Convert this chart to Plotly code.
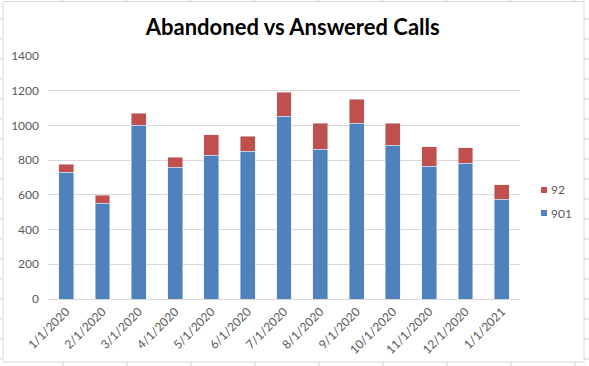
import plotly.graph_objects as go

months = ["1/1/2020", "2/1/2020", "3/1/2020", "4/1/2020", "5/1/2020", "6/1/2020",
          "7/1/2020", "8/1/2020", "9/1/2020", "10/1/2020", "11/1/2020", "12/1/2020", "1/1/2021"]
answered_901 = [731, 553, 1002, 760, 829, 852, 1054, 864, 1014, 887, 766, 783, 576]
abandoned_92 = [46, 46, 69, 58, 116, 87, 138, 150, 138, 127, 110, 87, 81]
y_ticks = [0, 200, 400, 600, 800, 1000, 1200, 1400]

BLUE = "#4F81BD"
RED = "#C0504D"

W, H = 589, 366
ML, MR, MT, MB = 48, 69, 56, 67
PW, PH = W - ML - MR, H - MT - MB


def px(x):
    return (x - ML) / PW


def py(y):
    return (H - MB - y) / PH


fig = go.Figure()
fig.add_trace(go.Bar(x=months, y=answered_901, name="901", marker_color=BLUE, showlegend=False))
fig.add_trace(go.Bar(x=months, y=abandoned_92, name="92", marker_color=RED, showlegend=False))

shapes = []
# spreadsheet cell grid behind the chart
for gx in range(63, W, 64):
    shapes.append(dict(type="line", xref="paper", yref="paper", x0=px(gx), x1=px(gx), y0=py(0), y1=py(H),
                       line=dict(color="#d4d4d4", width=1), layer="below"))
for gy in range(19, H, 20):
    shapes.append(dict(type="line", xref="paper", yref="paper", x0=px(0), x1=px(W), y0=py(gy), y1=py(gy),
                       line=dict(color="#d4d4d4", width=1), layer="below"))
# chart area
shapes.append(dict(type="rect", xref="paper", yref="paper", x0=px(3), x1=px(584), y0=py(362), y1=py(1.5),
                   line=dict(color="#d9d9d9", width=1), fillcolor="white", layer="below"))
# legend keys
shapes.append(dict(type="rect", xref="paper", yref="paper", x0=px(541), x1=px(547), y0=py(193), y1=py(187),
                   line=dict(width=0), fillcolor=RED))
shapes.append(dict(type="rect", xref="paper", yref="paper", x0=px(541), x1=px(547), y0=py(216), y1=py(210),
                   line=dict(width=0), fillcolor=BLUE))

annotations = [
    dict(text="92", xref="paper", yref="paper", x=px(549), y=py(190), xanchor="left", yanchor="middle",
         showarrow=False, font=dict(size=12, color="#595959")),
    dict(text="901", xref="paper", yref="paper", x=px(549), y=py(213), xanchor="left", yanchor="middle",
         showarrow=False, font=dict(size=12, color="#595959")),
]

fig.update_layout(
    width=W, height=H,
    barmode="stack", bargap=0.59,
    paper_bgcolor="white", plot_bgcolor="white",
    font=dict(family="Lato, Calibri, sans-serif", size=12, color="#595959"),
    title=dict(text="<b>Abandoned vs Answered Calls</b>", x=0.497, xanchor="center",
               xref="container", yref="container",
               y=0.926, yanchor="middle", font=dict(size=22, color="black")),
    margin=dict(l=ML, r=MR, t=MT, b=MB, autoexpand=False),
    showlegend=False,
    xaxis=dict(tickangle=-45, showgrid=False, showline=True, linecolor="#d9d9d9",
               ticks="", automargin=False, tickfont=dict(size=12, color="#595959")),
    yaxis=dict(range=[0, 1400], tickvals=y_ticks, showgrid=True, gridcolor="#d9d9d9",
               zeroline=False, showline=False, ticks="", ticklabelstandoff=8, automargin=False,
               tickfont=dict(size=12, color="#595959")),
    shapes=shapes,
    annotations=annotations,
)

fig.write_html("out.html", config={"displayModeBar": False},
               post_script="document.body.style.margin='0';")
